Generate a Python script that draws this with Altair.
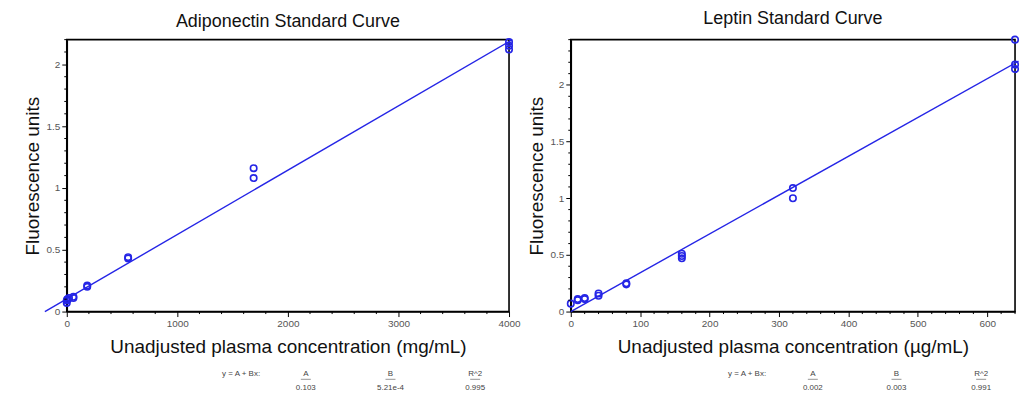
import altair as alt
import pandas as pd

# ---- data ----
adipo_x = [0, 0, 5, 10, 20, 60, 60, 185, 185, 555, 555, 1690, 1690, 4000, 4000, 4000]
adipo_y = [0.07, 0.09, 0.10, 0.10, 0.11, 0.12, 0.11, 0.20, 0.21, 0.43, 0.44, 1.08, 1.16, 2.12, 2.15, 2.18]
adipo_fit_x = [-198, 4030]
adipo_fit_y = [0.0, 2.2]
adipo_coef_names = ["A", "B", "R^2"]
adipo_coef_vals = ["0.103", "5.21e-4", "0.995"]

leptin_x = [0, 10, 10, 20, 20, 40, 40, 80, 80, 160, 160, 160, 320, 320, 640, 640, 640]
leptin_y = [0.07, 0.10, 0.11, 0.11, 0.12, 0.14, 0.16, 0.24, 0.25, 0.47, 0.49, 0.51, 1.00, 1.09, 2.14, 2.18, 2.40]
leptin_fit_x = [0, 645]
leptin_fit_y = [0.0, 2.21]
leptin_coef_names = ["A", "B", "R^2"]
leptin_coef_vals = ["0.002", "0.003", "0.991"]

FONT = "Liberation Sans"
BLUE = "#2525e6"


def panel(title, xs, ys, fx, fy, xmax, xmajor, xminor, ymax, xtitle, names, vals, W, H, cols, ytp):
    pts = pd.DataFrame({"x": xs, "y": ys})
    fit = pd.DataFrame({"x": fx, "y": fy})
    xmaj = [i * xmajor for i in range(int(xmax // xmajor) + 1)]
    ymaj = [round(i * 0.5, 2) for i in range(int(ymax / 0.5 + 1e-9) + 1)]
    xmin_ = [i * xminor for i in range(int(round(xmax / xminor)) + 1)]
    xmin_ = [v for v in xmin_ if v not in xmaj]
    ymin_ = [round(i * 0.1, 2) for i in range(int(round(ymax / 0.1)) + 1)]
    ymin_ = [v for v in ymin_ if v not in ymaj]

    xscale = alt.Scale(domain=[0, xmax], nice=False, zero=False)
    yscale = alt.Scale(domain=[0, ymax], nice=False, zero=False)
    xaxis = alt.Axis(
        values=xmaj, grid=False, title=xtitle, tickSize=5, labelOverlap=False,
        titleFontSize=19, titleFont=FONT, titleFontWeight="normal", titleColor="#111",
        titlePadding=9, labelFlush=False, format="d",
    )
    yaxis = alt.Axis(
        values=ymaj, grid=False, title="Fluorescence units", tickSize=5, labelOverlap=False,
        titleFontSize=19, titleFont=FONT, titleFontWeight="normal", titleColor="#111",
        titlePadding=ytp, format="~g",
    )

    base_pts = alt.Chart(pts).mark_point(
        shape="circle", filled=False, color=BLUE, size=42, strokeWidth=1.6, opacity=1
    ).encode(x=alt.X("x:Q", scale=xscale, axis=xaxis), y=alt.Y("y:Q", scale=yscale, axis=yaxis))

    line = alt.Chart(fit).mark_line(color=BLUE, strokeWidth=1.4).encode(
        x=alt.X("x:Q", scale=xscale), y=alt.Y("y:Q", scale=yscale)
    )

    xminor_ticks = alt.Chart(pd.DataFrame({"v": xmin_})).mark_rule(color="#000", strokeWidth=1).encode(
        x=alt.X("v:Q", scale=xscale), y=alt.value(H), y2=alt.value(H + 2.5))
    yminor_ticks = alt.Chart(pd.DataFrame({"v": ymin_})).mark_rule(color="#000", strokeWidth=1).encode(
        y=alt.Y("v:Q", scale=yscale), x=alt.value(0), x2=alt.value(-2.5))

    ann = pd.DataFrame({"t": ["y = A + Bx:"]})
    eq = alt.Chart(ann).mark_text(font=FONT, fontSize=8, color="#444", align="center", baseline="middle").encode(
        text="t:N", x=alt.value(cols[0]), y=alt.value(H + 63)
    )
    layers = [line, base_pts, xminor_ticks, yminor_ticks, eq]
    for i, (nm, vl) in enumerate(zip(names, vals)):
        d = pd.DataFrame({"n": [nm], "v": [vl]})
        layers.append(alt.Chart(d).mark_text(font=FONT, fontSize=8, color="#444", align="center", baseline="middle").encode(
            text="n:N", x=alt.value(cols[i + 1]), y=alt.value(H + 63)))
        layers.append(alt.Chart(d).mark_rule(color="#666", strokeWidth=0.7).encode(
            x=alt.value(cols[i + 1] - 5), x2=alt.value(cols[i + 1] + 5), y=alt.value(H + 68)))
        layers.append(alt.Chart(d).mark_text(font=FONT, fontSize=8, color="#444", align="center", baseline="middle").encode(
            text="v:N", x=alt.value(cols[i + 1]), y=alt.value(H + 77)))

    return alt.layer(*layers).properties(
        width=W, height=H,
        title=alt.TitleParams(title, font=FONT, fontSize=18, fontWeight="normal", color="#111", offset=5),
    )


left = panel("Adiponectin Standard Curve", adipo_x, adipo_y, adipo_fit_x, adipo_fit_y,
             4000, 1000, 200, 2.2, "Unadjusted plasma concentration (mg/mL)",
             adipo_coef_names, adipo_coef_vals, 444, 273, [175, 240, 325, 410], 3)
right = panel("Leptin Standard Curve", leptin_x, leptin_y, leptin_fit_x, leptin_fit_y,
              640, 100, 20, 2.4, "Unadjusted plasma concentration (µg/mL)",
              leptin_coef_names, leptin_coef_vals, 446, 273, [177, 243, 327, 412], 3)

chart = alt.hconcat(left, right, spacing=6).properties(
    padding={"left": 15, "top": 0, "right": 0, "bottom": 0},
    background="white",
).configure_view(
    stroke="#000", strokeWidth=1.6
).configure_axis(
    domainColor="#000", domainWidth=1.6, tickColor="#000", tickWidth=1,
    labelColor="#555", labelFont=FONT, labelFontSize=10, labelPadding=2,
)

chart.save("out.html", embed_options={"renderer": "svg", "actions": False})
